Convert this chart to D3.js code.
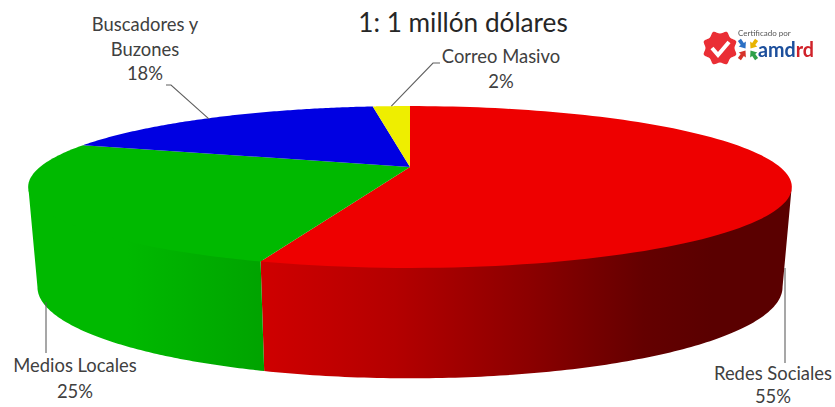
<!DOCTYPE html>
<html lang="es">
<head>
<meta charset="utf-8">
<style>
  html, body { margin: 0; padding: 0; background: #fff; }
  svg { display: block; }
  text { font-family: Lato, "Open Sans", sans-serif; }
</style>
<script src="https://cdn.jsdelivr.net/npm/d3@7/dist/d3.min.js"></script>
</head>
<body>
<svg id="chart" width="835" height="407"></svg>
<script>
// Chart data
const categories = ["Redes Sociales", "Medios Locales", "Buscadores y Buzones", "Correo Masivo"];
const shares = [55, 25, 18, 2];
const topColors = ["#ee0000", "#00b900", "#0000e2", "#eeee00"];
const chartTitle = "1: 1 millón dólares";

const svg = d3.select("#chart");
const defs = svg.append("defs");

// Perspective projection of the pie disc: k is the foreshortening strength.
const k = 0.247;
const topPlane = { cx: 410, cy: 167, a: 370, b: 76 };
const basePlane = { cx: 410, cy: 264.5, a: 361, b: 85.7 };
// The wall starts slightly under the top face so no seam shows between them.
const wallPlane = { ...topPlane, cy: topPlane.cy - 1.5 };
const project = (plane, theta) => {
  const u = Math.sin(theta), v = -Math.cos(theta), d = 1 - k * v;
  return [plane.cx + plane.a * u / d, plane.cy + plane.b * v / d];
};

const arcs = d3.pie().sort(null).value(d => d)(shares);
const line = d3.line();
const sample = (plane, from, to) =>
  d3.range(0, 121).map(i => project(plane, from + (to - from) * i / 120));

// Side wall: only the near half of the rim is visible.
const silhouetteRight = Math.acos(-k);
const silhouetteLeft = 2 * Math.PI - silhouetteRight;

const redWall = defs.append("linearGradient").attr("id", "wall-0")
  .attr("gradientUnits", "userSpaceOnUse").attr("x1", 262).attr("x2", 792).attr("y1", 0).attr("y2", 0);
[[0, "#cf0000"], [0.25, "#b40000"], [0.5, "#8c0000"], [0.72, "#640000"], [0.85, "#5a0000"], [1, "#5a0000"]]
  .forEach(([o, c]) => redWall.append("stop").attr("offset", o).attr("stop-color", c));
const greenWall = defs.append("linearGradient").attr("id", "wall-1")
  .attr("gradientUnits", "userSpaceOnUse").attr("x1", 28).attr("x2", 265).attr("y1", 0).attr("y2", 0);
[[0, "#00b900"], [0.42, "#00b900"], [1, "#00a300"]]
  .forEach(([o, c]) => greenWall.append("stop").attr("offset", o).attr("stop-color", c));

const wallG = svg.append("g");
arcs.forEach((arc, i) => {
  const from = Math.max(arc.startAngle, silhouetteRight);
  const to = Math.min(arc.endAngle, silhouetteLeft);
  if (to <= from) return;
  const outline = sample(wallPlane, from, to).concat(sample(basePlane, to, from));
  wallG.append("path")
    .attr("d", line(outline) + "Z")
    .attr("fill", `url(#wall-${i})`);
});

// Top face
const topG = svg.append("g");
arcs.forEach((arc, i) => {
  const rim = sample(topPlane, arc.startAngle, arc.endAngle);
  topG.append("path")
    .attr("d", line([[topPlane.cx, topPlane.cy], ...rim]) + "Z")
    .attr("fill", topColors[i]);
});

// Leader lines
const midAngle = i => (arcs[i].startAngle + arcs[i].endAngle) / 2;
const searchEnd = project(topPlane, midAngle(2));
const mailEnd = project(topPlane, midAngle(3));
const leaders = [
  [[785, 268], [785, 363]],
  [[46, 302], [46, 353]],
  [[166, 85], [171, 85], [searchEnd[0] - 3, searchEnd[1] + 1]],
  [[440, 63], [433, 63], mailEnd]
];
svg.append("g").selectAll("path").data(leaders).join("path")
  .attr("d", d => line(d))
  .attr("fill", "none")
  .attr("stroke", "#5f5f5f")
  .attr("stroke-width", 1.1);

// Category labels
const labelRows = [
  { x: 773, y: 380, gap: 22.5 },
  { x: 75, y: 372, gap: 26 },
  { x: 145, y: 31, gap: 24.5 },
  { x: 501, y: 62.5, gap: 25.5 }
];
const labels = svg.append("g").attr("fill", "#404040").attr("font-size", 18.4).attr("text-anchor", "middle");
labelRows.forEach((l, i) => {
  const rows = i === 2 ? ["Buscadores y", "Buzones", shares[2] + "%"] : [categories[i], shares[i] + "%"];
  rows.forEach((t, j) => labels.append("text").attr("x", l.x).attr("y", l.y + j * l.gap).text(t));
});

// Title
svg.append("text").attr("x", 463).attr("y", 31.5)
  .attr("text-anchor", "middle").attr("font-size", 26.2).attr("fill", "#262626")
  .text(chartTitle);

// Certification badge
defs.append("filter").attr("id", "soft").append("feGaussianBlur").attr("stdDeviation", 0.45);
const badge = svg.append("g").attr("filter", "url(#soft)");
const badgeCx = 720, badgeCy = 48;
const scallop = d3.lineRadial().curve(d3.curveCatmullRomClosed)
  .angle(d => d).radius((d, i) => i % 2 ? 17.5 : 14.5);
badge.append("path")
  .attr("transform", `translate(${badgeCx},${badgeCy})`)
  .attr("d", scallop(d3.range(16).map(i => i * Math.PI / 8)))
  .attr("fill", "#ea2e34");
badge.append("path")
  .attr("d", line([[badgeCx - 8, badgeCy], [badgeCx - 2, badgeCy + 7], [badgeCx + 9, badgeCy - 6]]))
  .attr("fill", "none").attr("stroke", "#fff").attr("stroke-width", 4);
badge.append("text").attr("x", 738).attr("y", 36)
  .attr("font-size", 8).attr("fill", "#555").text("Certificado por");

// Four-colour arrow mark
const arrow = (x, y, rot, color) => badge.append("path")
  .attr("transform", `translate(${x},${y}) rotate(${rot}) scale(1.25)`)
  .attr("d", "M-1.5,-5L1.5,-5L1.5,-1L3.5,-1L0,3.5L-3.5,-1L-1.5,-1Z")
  .attr("fill", color);
arrow(743, 45, -35, "#2b6fc4");
arrow(753, 45, 35, "#e8b400");
arrow(743, 54, -145, "#d6332a");
arrow(753, 54, 145, "#2fa04a");

const brand = badge.append("text").attr("x", 758).attr("y", 57)
  .attr("font-size", 20).attr("font-weight", 700)
  .attr("textLength", 56).attr("lengthAdjust", "spacingAndGlyphs");
brand.append("tspan").attr("fill", "#1c4f9c").text("amd");
brand.append("tspan").attr("fill", "#d0222a").text("rd");
</script>
</body>
</html>
